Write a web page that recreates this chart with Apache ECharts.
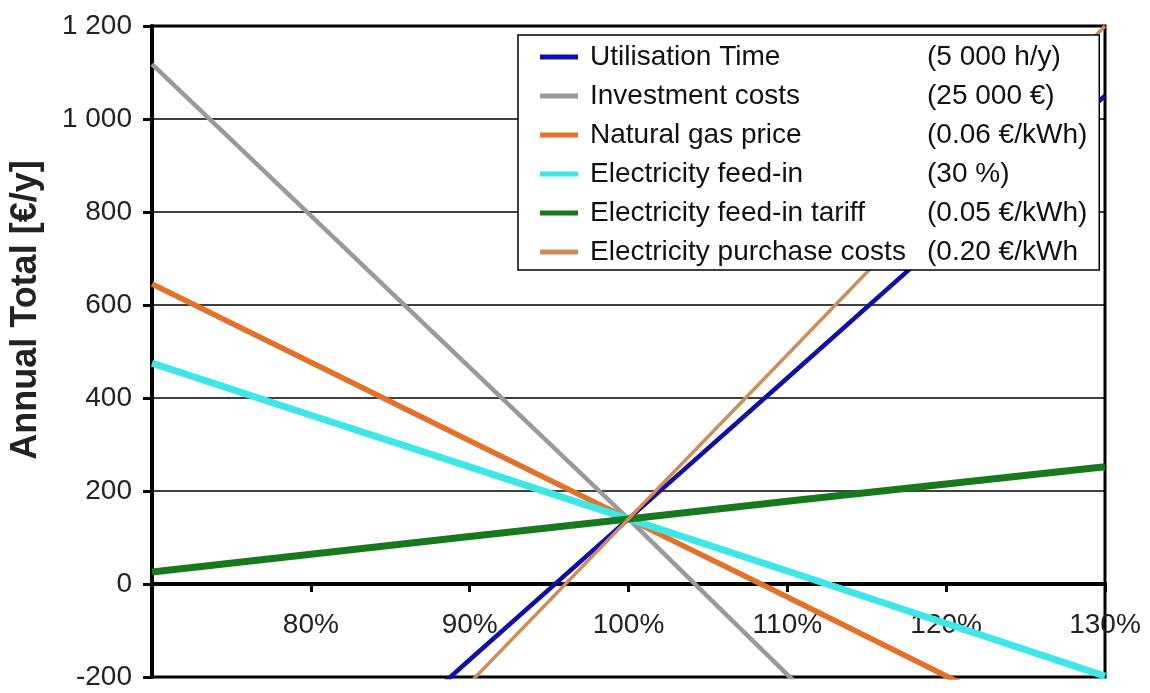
<!DOCTYPE html>
<html>
<head>
<meta charset="utf-8">
<script src="https://cdn.jsdelivr.net/npm/echarts@6/dist/echarts.min.js"></script>
<style>
    html, body { margin: 0; padding: 0; background: #fff; }
    #chart { width: 1150px; height: 693px; }
</style>
</head>
<body>
<div id="chart"></div>
<script>
// x positions (% of base case)
var xValues = [70, 80, 90, 100, 110, 120, 130]
var xTickLabels = ['', '80%', '90%', '100%', '110%', '120%', '130%']
var yTicks = [-200, 0, 200, 400, 600, 800, 1000, 1200]
var yTickLabels = ['-200', '0', '200', '400', '600', '800', '1 000', '1 200']

var seriesNames = ['Utilisation Time', 'Investment costs', 'Natural gas price',
    'Electricity feed-in', 'Electricity feed-in tariff', 'Electricity purchase costs']
var seriesNotes = ['(5 000 h/y)', '(25 000 €)', '(0.06 €/kWh)', '(30 %)', '(0.05 €/kWh)', '(0.20 €/kWh']

var utilisationTime = [-770, -467, -163, 140, 443, 747, 1050]
var investmentCosts = [1118, 792, 466, 140, -195, -520, -845]
var naturalGasPrice = [645, 477, 308, 140, -28, -198, -365]
var electricityFeedIn = [475, 363, 252, 140, 28, -85, -198]
var feedInTariff = [26, 64, 102, 140, 178, 215, 252]
var purchaseCosts = [-920, -567, -213, 140, 493, 847, 1200]

var colors = ['#0f0fa8', '#9a9a9a', '#e2712a', '#3ee6e6', '#18781c', '#d08c58']
var widths = [4.5, 4.5, 5.5, 7, 7, 3.5]
var allData = [utilisationTime, investmentCosts, naturalGasPrice, electricityFeedIn, feedInTariff, purchaseCosts]

var fontColor = '#222'
var font = 'Liberation Sans, Arial, sans-serif'

var series = []
for (var i = 0; i < seriesNames.length; i++) {
    var pts = []
    for (var j = 0; j < xValues.length; j++) {
        pts.push([xValues[j], allData[i][j]])
    }
    series.push({
        name: seriesNames[i],
        type: 'line',
        showSymbol: false,
        symbol: 'none',
        clip: true,
        lineStyle: { color: colors[i], width: widths[i] },
        itemStyle: { color: colors[i] },
        data: pts
    })
}

var myChart = echarts.init(document.getElementById('chart'))
var option = {
    backgroundColor: '#fff',
    animation: false,
    grid: {
        left: 152,
        right: 45,
        top: 26,
        bottom: 16,
        show: true,
        borderColor: '#000',
        borderWidth: 3
    },
    legend: {
        orient: 'vertical',
        left: 518,
        top: 35,
        backgroundColor: '#fff',
        borderColor: '#000',
        borderWidth: 1.5,
        padding: [8, 12, 4, 22],
        itemGap: 11,
        itemWidth: 38,
        itemHeight: 5,
        icon: 'rect',
        data: seriesNames,
        formatter: function (name) {
            var idx = seriesNames.indexOf(name)
            return '{n|' + name + '}{v|' + seriesNotes[idx] + '}'
        },
        textStyle: {
            color: '#111',
            fontFamily: font,
            fontSize: 28,
            rich: {
                n: { fontSize: 28, fontFamily: font, color: '#111', width: 337, padding: [0, 0, 0, 7] },
                v: { fontSize: 28, fontFamily: font, color: '#111' }
            }
        }
    },
    xAxis: [{
        // axis line on zero with ticks
        type: 'value',
        min: 70,
        max: 130,
        interval: 10,
        axisLine: { onZero: true, lineStyle: { color: '#000', width: 4 } },
        axisTick: { show: true, length: 8, lineStyle: { color: '#000', width: 3 } },
        axisLabel: { show: false },
        splitLine: { show: false }
    }, {
        // tick labels, lifted up to the zero line
        type: 'value',
        position: 'bottom',
        offset: -93,
        min: 70,
        max: 130,
        interval: 10,
        axisLine: { show: false, onZero: false },
        axisTick: { show: false },
        axisLabel: {
            margin: 27,
            color: fontColor,
            fontSize: 28,
            fontFamily: font,
            formatter: function (v) {
                var idx = xValues.indexOf(v)
                return idx >= 0 ? xTickLabels[idx] : ''
            }
        },
        splitLine: { show: false }
    }],
    yAxis: {
        type: 'value',
        min: -200,
        max: 1200,
        interval: 200,
        axisLine: { show: true, onZero: false, lineStyle: { color: '#000', width: 4 } },
        axisTick: { show: true, length: 9, lineStyle: { color: '#000', width: 3 } },
        axisLabel: {
            margin: 20,
            color: fontColor,
            fontSize: 28,
            fontFamily: font,
            formatter: function (v) {
                var idx = yTicks.indexOf(v)
                return idx >= 0 ? yTickLabels[idx] : v
            }
        },
        splitLine: { show: true, lineStyle: { color: '#000', width: 1.5 } }
    },
    graphic: [{
        type: 'text',
        x: 26,
        y: 310,
        rotation: Math.PI / 2,
        style: {
            text: 'Annual Total [€/y]',
            fontFamily: font,
            fontSize: 36,
            fontWeight: 'bold',
            fill: fontColor,
            align: 'center',
            verticalAlign: 'middle'
        }
    }],
    series: series
}
myChart.setOption(option)
window.addEventListener('resize', function () {
    myChart.resize()
})
</script>
</body>
</html>
